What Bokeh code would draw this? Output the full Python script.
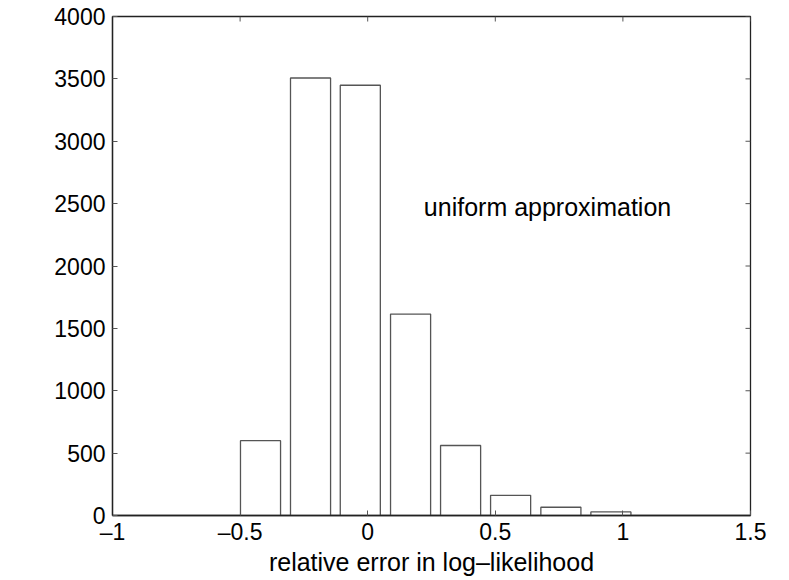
import math
from bokeh.plotting import figure
from bokeh.models import LinearAxis, FixedTicker, Range1d, ColumnDataSource, Label
from bokeh.embed import file_html
from bokeh.resources import INLINE

# Data
bin_centers = [-0.42, -0.224, -0.029, 0.168, 0.364, 0.56, 0.757, 0.953]
counts = [600, 3507, 3449, 1615, 561, 162, 66, 29]
bar_width = 0.157

x_ticks = [-1, -0.5, 0, 0.5, 1, 1.5]
x_tick_labels = ["\u20131", "\u20130.5", "0", "0.5", "1", "1.5"]
y_ticks = [0, 500, 1000, 1500, 2000, 2500, 3000, 3500, 4000]

x_label = "relative error in log\u2013likelihood"
annotation = "uniform approximation"

FONT = "Liberation Sans"
TICK_FS = "23px"
LABEL_FS = "25px"
X_MIN, X_MAX = -1, 1.5
Y_MIN, Y_MAX = 0, 4000

p = figure(width=781, height=578, output_backend="svg", toolbar_location=None,
           x_range=Range1d(X_MIN, X_MAX), y_range=Range1d(Y_MIN, Y_MAX),
           x_axis_location=None, y_axis_location=None,
           min_border_left=112, min_border_right=31, min_border_top=16, min_border_bottom=61)
p.grid.visible = False
p.outline_line_color = "#222222"
p.outline_line_width = 1.3
p.background_fill_color = "white"
p.border_fill_color = "white"

src = ColumnDataSource(dict(
    left=[c - bar_width / 2 for c in bin_centers],
    right=[c + bar_width / 2 for c in bin_centers],
    top=counts,
    bottom=[0] * len(counts),
))
p.quad(left="left", right="right", top="top", bottom="bottom", source=src,
       fill_color="white", line_color="#555555", line_width=1.3)


def style_axis(ax):
    ax.axis_line_color = "#222222"
    ax.axis_line_width = 1.3
    ax.major_tick_in = 5
    ax.major_tick_out = 0
    ax.minor_tick_in = 0
    ax.minor_tick_out = 0
    ax.major_tick_line_color = "#555555"
    ax.major_label_text_font = FONT
    ax.major_label_text_font_size = TICK_FS
    ax.major_label_text_color = "black"
    ax.axis_label_text_font = FONT
    ax.axis_label_text_font_size = LABEL_FS
    ax.axis_label_text_font_style = "normal"
    ax.axis_label_text_color = "black"


xb = LinearAxis(ticker=FixedTicker(ticks=x_ticks))
xb.major_label_overrides = {t: l for t, l in zip(x_ticks, x_tick_labels)}
xb.axis_label = x_label
style_axis(xb)
xb.major_label_standoff = 3
xb.axis_label_standoff = 0
p.add_layout(xb, "below")

yl = LinearAxis(ticker=FixedTicker(ticks=y_ticks))
style_axis(yl)
yl.major_label_standoff = 7
p.add_layout(yl, "left")

# inward ticks on the top and right edges of the box
p.ray(x=x_ticks, y=[Y_MAX] * len(x_ticks), length=5, length_units="screen",
      angle=-math.pi / 2, line_color="#555555", line_width=1)
p.ray(x=[X_MAX] * len(y_ticks), y=y_ticks, length=5, length_units="screen",
      angle=math.pi, line_color="#555555", line_width=1)

p.add_layout(Label(x=0.22, y=2470, text=annotation, text_font=FONT, text_font_size=LABEL_FS,
                   text_baseline="middle", text_align="left", text_color="black"))

open("out.html", "w").write(file_html(p, INLINE))
